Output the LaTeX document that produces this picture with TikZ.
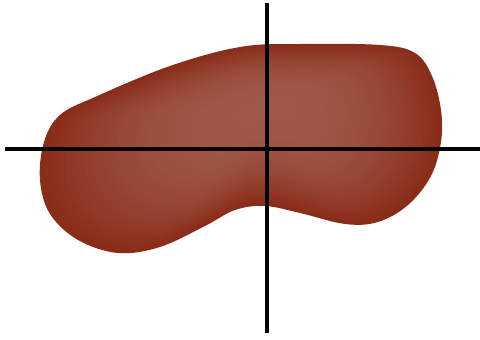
\documentclass[tikz,border=0pt]{standalone}
\definecolor{blobLight}{RGB}{160,88,72}
\definecolor{blobDark}{RGB}{137,44,24}
\newcommand{\blobpath}{plot[smooth cycle, tension=0.6] coordinates {
    (95,97) (170,66) (240,47) (300,44) (380,45) (415,53) (432,76) (441,110)
    (441,142) (431,176) (408,205) (378,222) (345,224) (300,213) (265,206)
    (235,210) (205,226) (160,247) (118,253) (78,240) (50,214) (40,180)
    (44,142) (60,115)}}
\begin{document}
\begin{tikzpicture}[x=0.02cm, y=-0.02cm,
    axis/.style={line width=1.8pt, black},
  ]
  \useasboundingbox (0,0) rectangle (480,340);

  % Blob, lighter towards the middle
  \fill[blobDark] \blobpath;
  \foreach \i in {1,...,30}{
    \pgfmathsetmacro\sc{1-0.028*\i}
    \pgfmathtruncatemacro\pct{100*(1-(1-\i/30)^2)}
    \fill[blobLight!\pct!blobDark, shift={(270,105)}, scale=\sc, shift={(-270,-105)}] \blobpath;
  }

  % Axes
  \coordinate (xl) at (5,149);
  \coordinate (xr) at (480,149);
  \coordinate (yt) at (267,3);
  \coordinate (yb) at (267,333);
  \draw[axis] (xl) -- (xr);
  \draw[axis] (yt) -- (yb);
\end{tikzpicture}
\end{document}
